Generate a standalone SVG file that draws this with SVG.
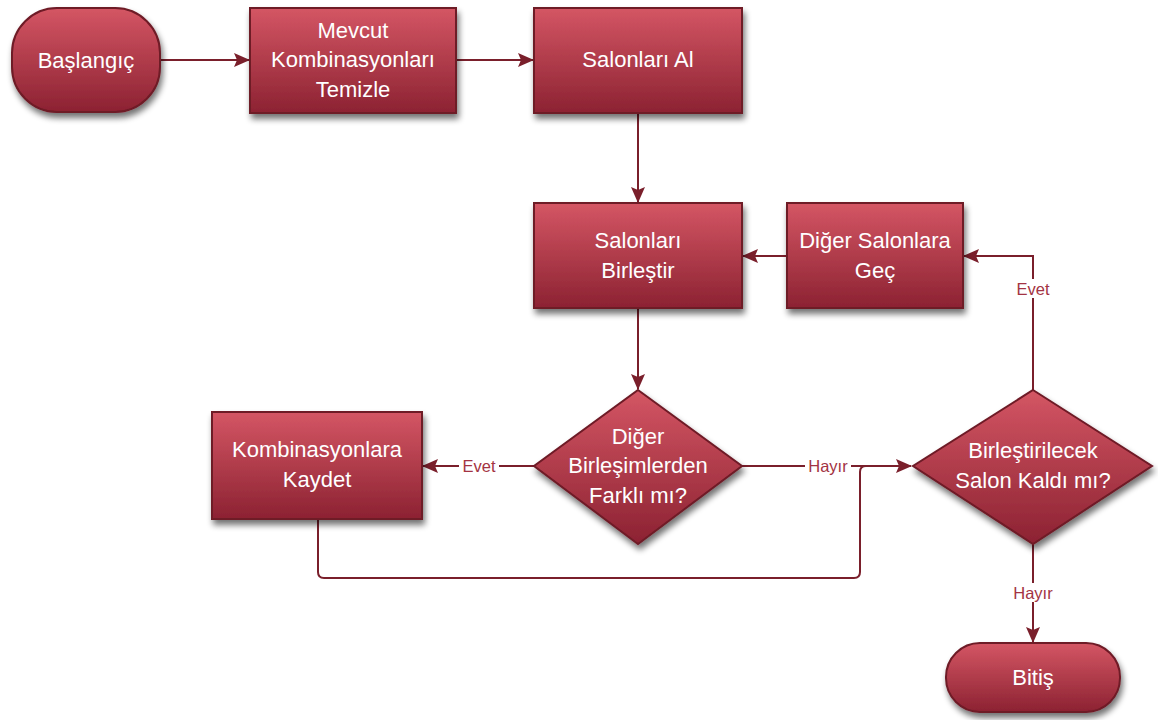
<svg xmlns="http://www.w3.org/2000/svg" width="1158" height="720" viewBox="0 0 1158 720">
<style>
.n{fill:url(#g);stroke:#6e1a26;stroke-width:2;filter:url(#sh)}
.t{font-family:"Liberation Sans",Arial,sans-serif;font-size:22px;fill:#ffffff;text-anchor:middle}
.c{fill:none;stroke:#7a1f2b;stroke-width:2}
.l{font-family:"Liberation Sans",Arial,sans-serif;font-size:16.5px;fill:#a33343;text-anchor:middle}
.lb{fill:#ffffff}
</style>
<defs>
<linearGradient id="g" x1="0" y1="0" x2="0" y2="1">
<stop offset="0" stop-color="#d45664"/>
<stop offset="1" stop-color="#8c2232"/>
</linearGradient>
<filter id="sh" x="-20%" y="-20%" width="140%" height="150%">
<feGaussianBlur in="SourceAlpha" stdDeviation="3"/>
<feOffset dx="2" dy="5" result="b"/>
<feComponentTransfer><feFuncA type="linear" slope="0.55"/></feComponentTransfer>
<feMerge><feMergeNode/><feMergeNode in="SourceGraphic"/></feMerge>
</filter>
<marker id="a" markerWidth="16" markerHeight="16" refX="15" refY="8" orient="auto" markerUnits="userSpaceOnUse">
<path d="M0,1 L16,8 L0,15 L3,8 Z" fill="#7a1f2b"/>
</marker>
</defs>
<rect width="1158" height="720" fill="#ffffff"/>
<g id="connectors">
<path class="c" d="M160,60 H249" marker-end="url(#a)"/>
<path class="c" d="M456,60 H533" marker-end="url(#a)"/>
<path class="c" d="M638,113 V202" marker-end="url(#a)"/>
<path class="c" d="M787,256 H743" marker-end="url(#a)"/>
<path class="c" d="M638,308 V389" marker-end="url(#a)"/>
<path class="c" d="M534,466 H423" marker-end="url(#a)"/>
<path class="c" d="M742,466 H911" marker-end="url(#a)"/>
<path class="c" d="M318,519 V572 Q318,578 324,578 H854 Q860,578 860,572 V472 Q860,466 866,466 H911"/>
<path class="c" d="M1033,390 V256 H964" marker-end="url(#a)"/>
<path class="c" d="M1033,544 V642" marker-end="url(#a)"/>
<rect class="lb" x="459" y="456" width="40" height="19"/>
<text class="l" x="479" y="472">Evet</text>
<rect class="lb" x="805" y="456" width="46" height="19"/>
<text class="l" x="828" y="472">Hayır</text>
<rect class="lb" x="1013" y="279" width="40" height="19"/>
<text class="l" x="1033" y="295">Evet</text>
<rect class="lb" x="1009" y="583" width="48" height="19"/>
<text class="l" x="1033" y="599">Hayır</text>
</g>
<g id="baslangic">
<rect class="n" x="12" y="8" width="148" height="104" rx="45" ry="45"/>
<text class="t" x="86" y="68">Başlangıç</text>
</g>
<g id="mevcut">
<rect class="n" x="250" y="8" width="206" height="105"/>
<text class="t" x="353" y="38">Mevcut</text>
<text class="t" x="353" y="67">Kombinasyonları</text>
<text class="t" x="353" y="97">Temizle</text>
</g>
<g id="salonlari-al">
<rect class="n" x="534" y="8" width="208" height="105"/>
<text class="t" x="638" y="67">Salonları Al</text>
</g>
<g id="salonlari-birlestir">
<rect class="n" x="534" y="203" width="208" height="105"/>
<text class="t" x="638" y="248">Salonları</text>
<text class="t" x="638" y="278">Birleştir</text>
</g>
<g id="diger-salonlara">
<rect class="n" x="787" y="203" width="176" height="105"/>
<text class="t" x="875" y="248">Diğer Salonlara</text>
<text class="t" x="875" y="278">Geç</text>
</g>
<g id="farkli-mi">
<path class="n" d="M638,390 L742,466 L638,544 L534,466 Z"/>
<text class="t" x="638" y="444">Diğer</text>
<text class="t" x="638" y="473">Birleşimlerden</text>
<text class="t" x="638" y="503">Farklı mı?</text>
</g>
<g id="kaydet">
<rect class="n" x="212" y="412" width="210" height="107"/>
<text class="t" x="317" y="457">Kombinasyonlara</text>
<text class="t" x="317" y="487">Kaydet</text>
</g>
<g id="kaldi-mi">
<path class="n" d="M1033,390 L1152,466 L1033,544 L913,466 Z"/>
<text class="t" x="1033" y="458">Birleştirilecek</text>
<text class="t" x="1033" y="488">Salon Kaldı mı?</text>
</g>
<g id="bitis">
<rect class="n" x="946" y="643" width="174" height="69" rx="34" ry="34"/>
<text class="t" x="1033" y="685">Bitiş</text>
</g>
</svg>
